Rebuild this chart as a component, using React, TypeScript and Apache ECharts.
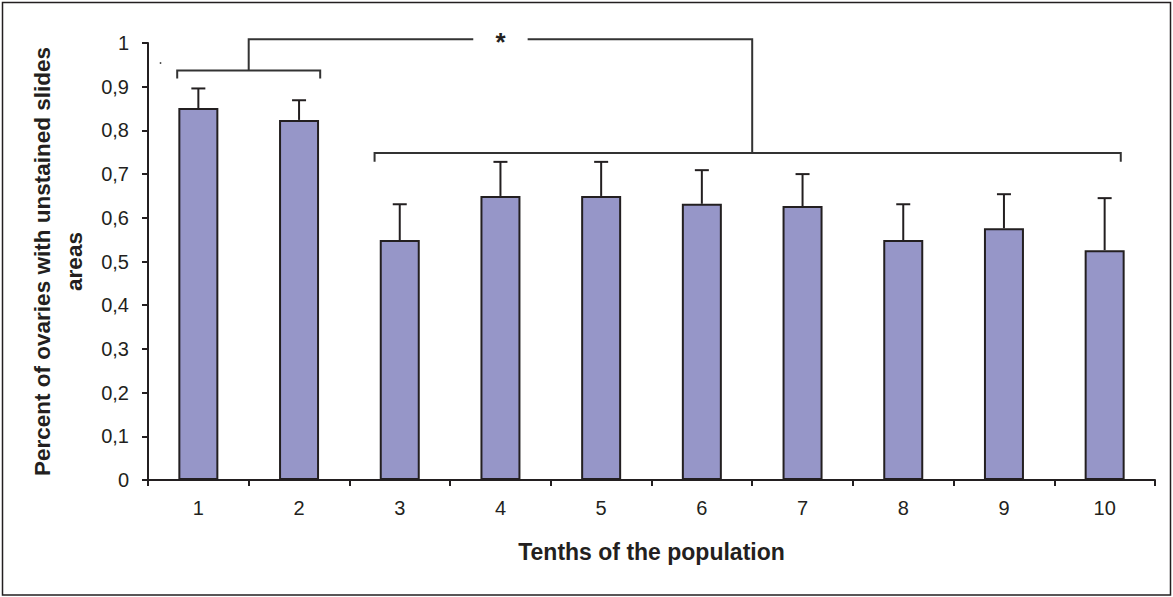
import React, { useEffect, useRef } from "react";
import * as echarts from "echarts";

const categories = ["1", "2", "3", "4", "5", "6", "7", "8", "9", "10"];
const meanValues = [0.851, 0.824, 0.549, 0.65, 0.65, 0.632, 0.627, 0.549, 0.576, 0.526];
const errorTops = [0.896, 0.869, 0.631, 0.728, 0.728, 0.709, 0.7, 0.631, 0.654, 0.645];
const yTicks = { min: 0, max: 1, interval: 0.1 };

// significance brackets: [firstIndex, lastIndex, leftOffsetBand, rightOffsetBand, level, tickEnd]
const bracketGroupA = [0, 1, -0.21, 0.21, 0.937, 0.919];
const bracketGroupB = [2, 9, -0.25, 0.16, 0.748, 0.728];
const connectorLevel = 1.0085;
const significanceLabel = "*";

const INK = "#231f20";
const FONT = "'Liberation Sans', Arial, sans-serif";

export default function App() {
  const ref = useRef<HTMLDivElement>(null);
  useEffect(() => {
    document.body.style.margin = "0";
    const chart = echarts.init(ref.current!, undefined, { renderer: "svg" });

    const errData = categories.map((_, i) => [i, meanValues[i], errorTops[i]]);

    const option: any = {
      animation: false,
      backgroundColor: "#ffffff",
      grid: { left: 148, right: 18, top: 43, bottom: 117, containLabel: false },
      xAxis: {
        type: "category",
        data: categories,
        name: "Tenths of the population",
        nameLocation: "middle",
        nameGap: 60,
        nameTextStyle: { fontFamily: FONT, fontWeight: "bold", fontSize: 23, color: INK },
        axisLine: { lineStyle: { color: INK, width: 2 } },
        axisTick: { show: true, length: 6, lineStyle: { color: INK, width: 2 } },
        axisLabel: { fontFamily: FONT, fontSize: 20, color: INK, margin: 18 },
        splitLine: { show: false },
      },
      yAxis: {
        type: "value",
        min: yTicks.min,
        max: yTicks.max,
        interval: yTicks.interval,
        name: "Percent of ovaries with unstained slides\nareas",
        nameLocation: "middle",
        nameRotate: 90,
        nameGap: 54,
        nameTextStyle: {
          fontFamily: FONT,
          fontWeight: "bold",
          fontSize: 22.5,
          lineHeight: 32,
          color: INK,
          align: "center",
        },
        axisLine: { show: true, lineStyle: { color: INK, width: 2 } },
        axisTick: { show: true, length: 6, lineStyle: { color: INK, width: 2 } },
        axisLabel: {
          fontFamily: FONT,
          fontSize: 20,
          color: INK,
          margin: 19,
          formatter: (v: number) =>
            v === 0 || v === 1 ? String(v) : v.toFixed(1).replace(".", ","),
        },
        splitLine: { show: false },
      },
      graphic: [
        {
          type: "rect",
          shape: { x: 2.5, y: 2.5, width: 1168, height: 592.5 },
          style: { fill: "none", stroke: INK, lineWidth: 1.5 },
          silent: true,
        },
        {
          type: "circle",
          shape: { cx: 160.5, cy: 63, r: 0.9 },
          style: { fill: "#444" },
          silent: true,
        },
      ],
      series: [
        {
          type: "bar",
          data: meanValues,
          barWidth: 40,
          itemStyle: { color: "#9696c8", borderColor: INK, borderWidth: 2 },
          z: 2,
        },
        {
          type: "custom",
          data: errData,
          z: 3,
          clip: false,
          renderItem: (params: any, api: any) => {
            const i = api.value(0);
            const p0 = api.coord([i, api.value(1)]);
            const p1 = api.coord([i, api.value(2)]);
            const cap = 7;
            const ls = { stroke: INK, lineWidth: 2 };
            return {
              type: "group",
              children: [
                { type: "line", shape: { x1: p0[0], y1: p0[1], x2: p1[0], y2: p1[1] }, style: ls },
                { type: "line", shape: { x1: p1[0] - cap, y1: p1[1], x2: p1[0] + cap, y2: p1[1] }, style: ls },
              ],
            };
          },
        },
        {
          type: "custom",
          data: [[0]],
          z: 4,
          clip: false,
          silent: true,
          renderItem: (params: any, api: any) => {
            const band = api.size([1, 0])[0];
            const ls = { stroke: "#333333", lineWidth: 2, fill: "none" };
            const bracket = (b: number[]) => {
              const xl = api.coord([b[0], 0])[0] + b[2] * band;
              const xr = api.coord([b[1], 0])[0] + b[3] * band;
              const y = api.coord([0, b[4]])[1];
              const yt = api.coord([0, b[5]])[1];
              return {
                y,
                el: {
                  type: "polyline",
                  shape: { points: [[xl, yt], [xl, y], [xr, y], [xr, yt]] },
                  style: ls,
                },
              };
            };
            const a = bracket(bracketGroupA);
            const b = bracket(bracketGroupB);
            const midA = (api.coord([bracketGroupA[0], 0])[0] + api.coord([bracketGroupA[1], 0])[0]) / 2;
            const midB = (api.coord([bracketGroupB[0], 0])[0] + api.coord([bracketGroupB[1], 0])[0]) / 2;
            const yTop = api.coord([0, connectorLevel])[1];
            const starX = api.coord([3, 0])[0];
            const gap = 0.27 * band;
            return {
              type: "group",
              children: [
                a.el,
                b.el,
                {
                  type: "polyline",
                  shape: { points: [[midA, a.y], [midA, yTop], [starX - gap, yTop]] },
                  style: ls,
                },
                {
                  type: "polyline",
                  shape: { points: [[starX + gap, yTop], [midB, yTop], [midB, b.y]] },
                  style: ls,
                },
                {
                  type: "text",
                  x: starX,
                  y: yTop + 3,
                  style: {
                    text: significanceLabel,
                    fontFamily: FONT,
                    fontSize: 26,
                    fontWeight: "bold",
                    fill: INK,
                    align: "center",
                    verticalAlign: "middle",
                  },
                },
              ],
            };
          },
        },
      ],
    };
    chart.setOption(option);
    return () => chart.dispose();
  }, []);
  return <div ref={ref} style={{ width: 1173, height: 597 }} />;
}
